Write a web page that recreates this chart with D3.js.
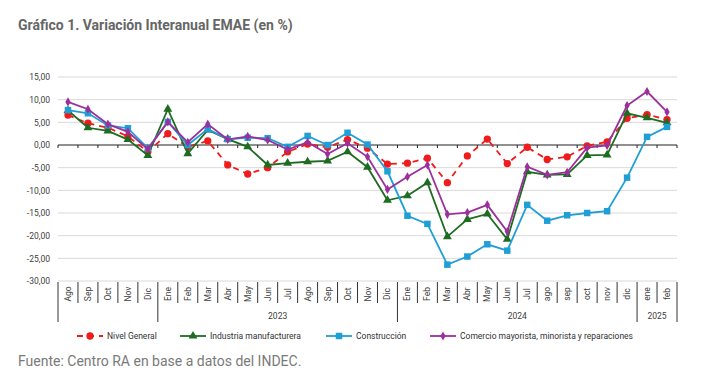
<!DOCTYPE html>
<html>
<head>
<meta charset="utf-8">
<script src="https://cdn.jsdelivr.net/npm/d3@7"></script>
<style>
  body { margin: 0; background: #fff; }
  svg { display: block; }
</style>
</head>
<body>
<svg id="chart"></svg>
<script>
const months = ["Ago","Sep","Oct","Nov","Dic","Ene","Feb","Mar","Abr","May","Jun","Jul","Ago","Sep","Oct","Nov","Dic",
  "Ene","Feb","Mar","Abr","May","Jun","Jul","ago","sep","oct","nov","dic","ene","feb"];
const yearLabels = ["", "2023", "2024", "2025"];
const yearSizes = [5, 12, 12, 2];

const nivelGeneral = [6.6, 4.8, 3.8, 1.9, -1.5, 2.5, -0.4, 0.9, -4.4, -6.4, -5.0, -1.5, 0.2, -0.5, 1.2, -0.7, -4.2,
  -4.0, -2.9, -8.3, -2.4, 1.3, -4.1, -0.5, -3.2, -2.6, -0.2, 0.7, 5.9, 6.7, 5.6];
const industria = [7.6, 3.8, 3.1, 1.2, -2.3, 7.9, -1.9, 3.3, 1.3, -0.4, -4.4, -4.0, -3.7, -3.5, -1.5, -4.9, -12.2,
  -11.2, -8.3, -20.2, -16.4, -15.2, -20.8, -5.9, -6.6, -6.5, -2.3, -2.2, 7.0, 6.0, 4.9];
const construccion = [7.7, 7.0, 4.3, 3.7, -0.7, 5.1, 0.0, 3.5, 1.3, 1.6, 1.5, -0.4, 2.0, 0.0, 2.7, 0.1, -5.8,
  -15.6, -17.4, -26.4, -24.6, -21.9, -23.3, -13.2, -16.7, -15.5, -15.0, -14.6, -7.2, 1.8, 4.0];
const comercio = [9.5, 7.9, 4.6, 2.9, -0.9, 5.1, 0.6, 4.6, 1.2, 1.9, 1.1, -1.0, 0.6, -2.0, 0.4, -2.6, -9.8,
  -7.0, -4.4, -15.3, -14.9, -13.2, -19.1, -4.8, -6.6, -6.0, -0.6, -0.1, 8.7, 11.8, 7.3];

const seriesNames = ["Nivel General", "Industria manufacturera", "Construcción", "Comercio mayorista, minorista y reparaciones"];
const yTicks = [-30, -25, -20, -15, -10, -5, 0, 5, 10, 15];

const w = 720;
const h = 385;
const plotLeft = 58;
const plotRight = 677;
const plotTop = 77;
const plotBottom = 281;
const axisFont = "Roboto, 'Noto Sans', sans-serif";

const svg = d3.select("#chart").attr("width", w).attr("height", h);

svg.append("text")
  .attr("x", 18)
  .attr("y", 30)
  .style("font-family", axisFont)
  .style("font-weight", "bold")
  .style("font-size", "14px")
  .style("fill", "#666")
  .text("Gráfico 1. Variación Interanual EMAE (en %)");

svg.append("text")
  .attr("x", 18)
  .attr("y", 366)
  .style("font-family", axisFont)
  .style("font-size", "14px")
  .style("fill", "#7a7a7a")
  .text("Fuente: Centro RA en base a datos del INDEC.");

const xScale = d3.scaleBand().domain(d3.range(months.length)).range([plotLeft, plotRight]);
const bw = xScale.bandwidth();
const cx = (i) => xScale(i) + bw / 2;
const yScale = d3.scaleLinear().domain([-30, 15]).range([plotBottom, plotTop]);

const locale = d3.formatLocale({ decimal: ",", thousands: ".", grouping: [3], currency: ["$", ""], minus: "-" });
const fmt = locale.format(".2f");

// grid
svg.append("g")
  .selectAll("line")
  .data(yTicks.filter((t) => t !== 0))
  .enter()
  .append("line")
  .attr("x1", plotLeft)
  .attr("x2", plotRight)
  .attr("y1", (d) => yScale(d))
  .attr("y2", (d) => yScale(d))
  .style("stroke", "#d9d9d9")
  .style("stroke-width", 1);

const yAxis = d3.axisLeft(yScale).tickValues(yTicks).tickFormat(fmt).tickSize(0).tickPadding(0);
const yG = svg.append("g").attr("transform", "translate(50,0)").call(yAxis);
yG.select(".domain").remove();
yG.selectAll("text")
  .style("font-family", axisFont)
  .style("font-size", "8.5px")
  .style("fill", "#404040");

// zero line with ticks at category boundaries
const y0 = yScale(0);
svg.append("line")
  .attr("x1", plotLeft).attr("x2", plotRight)
  .attr("y1", y0).attr("y2", y0)
  .style("stroke", "#222").style("stroke-width", 1.2);
svg.append("g")
  .selectAll("line")
  .data(d3.range(months.length + 1))
  .enter()
  .append("line")
  .attr("x1", (i) => plotLeft + i * bw)
  .attr("x2", (i) => plotLeft + i * bw)
  .attr("y1", y0)
  .attr("y2", y0 + 3)
  .style("stroke", "#222");

// category axis at the bottom
const yearStarts = [0];
yearSizes.forEach((n, k) => yearStarts.push(yearStarts[k] + n));
const xG = svg.append("g");
xG.selectAll("line.sep")
  .data(d3.range(months.length + 1))
  .enter()
  .append("line")
  .attr("class", "sep")
  .attr("x1", (i) => plotLeft + i * bw)
  .attr("x2", (i) => plotLeft + i * bw)
  .attr("y1", plotBottom + 1)
  .attr("y2", (i) => (yearStarts.includes(i) ? 322 : 303))
  .style("stroke", "#333")
  .style("stroke-width", 1);
xG.selectAll("text.month")
  .data(months)
  .enter()
  .append("text")
  .attr("class", "month")
  .attr("transform", (d, i) => "translate(" + (cx(i) + 3) + "," + 294 + ") rotate(-90)")
  .attr("text-anchor", "middle")
  .style("font-family", axisFont)
  .style("font-size", "8.5px")
  .style("fill", "#404040")
  .text((d) => d);
xG.selectAll("text.year")
  .data(yearLabels)
  .enter()
  .append("text")
  .attr("class", "year")
  .attr("x", (d, k) => plotLeft + (yearStarts[k] + yearSizes[k] / 2) * bw)
  .attr("y", 319)
  .attr("text-anchor", "middle")
  .style("font-family", axisFont)
  .style("font-size", "8.5px")
  .style("fill", "#404040")
  .text((d) => d);

// series
const series = [
  { name: seriesNames[0], values: nivelGeneral, color: "#ee1c1c", dash: "6,5", symbol: d3.symbolCircle, size: 42 },
  { name: seriesNames[1], values: industria, color: "#1e6b22", dash: null, symbol: d3.symbolTriangle, size: 34 },
  { name: seriesNames[2], values: construccion, color: "#1f9fd6", dash: null, symbol: d3.symbolSquare, size: 42 },
  { name: seriesNames[3], values: comercio, color: "#9b2f9c", dash: null, symbol: d3.symbolDiamond, size: 24 },
];

const line = d3.line().x((d, i) => cx(i)).y((d) => yScale(d));

series.forEach((s) => {
  svg.append("path")
    .datum(s.values)
    .attr("d", line)
    .style("fill", "none")
    .style("stroke", s.color)
    .style("stroke-width", 1.8)
    .style("stroke-dasharray", s.dash);
  svg.append("g")
    .selectAll("path")
    .data(s.values)
    .enter()
    .append("path")
    .attr("transform", (d, i) => "translate(" + cx(i) + "," + yScale(d) + ")")
    .attr("d", d3.symbol().type(s.symbol).size(s.size))
    .style("fill", s.color);
});

// legend
const legendX = [77, 180, 326, 430];
const legend = svg.append("g").attr("transform", "translate(0,336)");
series.forEach((s, k) => {
  const lx = legendX[k];
  legend.append("line")
    .attr("x1", lx).attr("x2", lx + 26)
    .attr("y1", 0).attr("y2", 0)
    .style("stroke", s.color)
    .style("stroke-width", 1.8)
    .style("stroke-dasharray", s.dash);
  legend.append("path")
    .attr("transform", "translate(" + (lx + 13) + ",0)")
    .attr("d", d3.symbol().type(s.symbol).size(s.size))
    .style("fill", s.color);
  legend.append("text")
    .attr("x", lx + 30)
    .attr("y", 3)
    .style("font-family", axisFont)
    .style("font-size", "8.5px")
    .style("fill", "#333")
    .text(s.name);
});
</script>
</body>
</html>
